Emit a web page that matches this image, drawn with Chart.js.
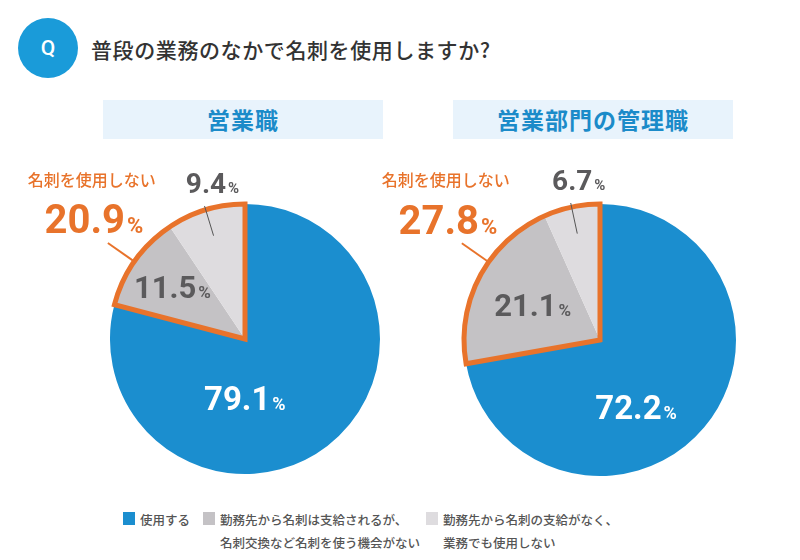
<!doctype html>
<html>
<head>
<meta charset="utf-8">
<script src="https://cdn.jsdelivr.net/npm/chart.js"></script>
<style>
  * { margin: 0; padding: 0; box-sizing: border-box; }
  body { width: 800px; height: 560px; background: #fff; position: relative; overflow: hidden;
         font-family: 'Noto Sans CJK JP', 'Noto Sans', sans-serif; }
  #qmark { position: absolute; left: 18px; top: 18px; width: 60px; height: 60px; border-radius: 50%;
           background: #1a9bd9; color: #fff; font: 500 21px Roboto, sans-serif; text-align: center; line-height: 60px; }
  #question { position: absolute; left: 91px; top: 34px; font-size: 21px; font-weight: 500; color: #333; letter-spacing: 0.6px; }
  .head { position: absolute; top: 100px; height: 39px; background: #e8f3fc; color: #1b8bc9;
          font-size: 23px; font-weight: 700; text-align: center; line-height: 38px; letter-spacing: 1px; }
  canvas { position: absolute; top: 150px; }
  .leg { position: absolute; top: 508px; font-size: 12.5px; color: #555; line-height: 23px; font-weight: 500; }
  .leg i { position: absolute; left: -17px; top: 4px; width: 12px; height: 13px; }
</style>
</head>
<body>
<div id="qmark">Q</div>
<div id="question">普段の業務のなかで名刺を使用しますか?</div>
<div class="head" id="head0" style="left:103px;width:280px;"></div>
<div class="head" id="head1" style="left:453px;width:280px;"></div>
<canvas id="pie0" width="400" height="340" style="left:0px;"></canvas>
<canvas id="pie1" width="440" height="340" style="left:360px;"></canvas>
<div class="leg" style="left:140px;"><i style="background:#1b8ecf"></i><span id="leg0"></span></div>
<div class="leg" style="left:220px;"><i style="background:#c4c2c5"></i><span id="leg1"></span></div>
<div class="leg" style="left:443px;"><i style="background:#dedcdf"></i><span id="leg2"></span></div>

<script>
// --- data ---
const categories = ['使用する', '勤務先から名刺は支給されるが、\n名刺交換など名刺を使う機会がない', '勤務先から名刺の支給がなく、\n業務でも使用しない'];
const groupTitles = ['営業職', '営業部門の管理職'];
const salesValues = [79.1, 11.5, 9.4];
const managerValues = [72.2, 21.1, 6.7];
const notUsedLabel = '名刺を使用しない';
const notUsedTotals = [20.9, 27.8];

const sliceColors = ['#1b8ecf', '#c4c2c5', '#dedcdf'];
const orange = '#e8732b';
const numFont = 'Roboto, "Liberation Sans", sans-serif';

document.getElementById('head0').textContent = groupTitles[0];
document.getElementById('head1').textContent = groupTitles[1];
categories.forEach((c, i) => {
  document.getElementById('leg' + i).innerHTML = c.replace('\n', '<br>');
});

// number with a smaller % sign, centred on x
function drawValue(ctx, value, x, y, size, color) {
  const num = value.toFixed(1);
  ctx.font = '700 ' + size + 'px ' + numFont;
  const w1 = ctx.measureText(num).width;
  const pSize = Math.round(size * 0.55);
  ctx.font = '700 ' + pSize + 'px ' + numFont;
  const w2 = ctx.measureText('%').width;
  const left = x - (w1 + w2 + 2) / 2;
  ctx.fillStyle = color;
  ctx.textBaseline = 'alphabetic';
  ctx.textAlign = 'left';
  ctx.font = '700 ' + size + 'px ' + numFont;
  ctx.fillText(num, left, y + size * 0.36);
  ctx.font = '700 ' + pSize + 'px ' + numFont;
  ctx.fillText('%', left + w1 + 2, y + size * 0.36);
}

const pieLabels = {
  id: 'pieLabels',
  afterDatasetsDraw(chart, args, opts) {
    const ctx = chart.ctx;
    const arcs = chart.getDatasetMeta(0).data;
    const vals = chart.data.datasets[0].data;
    const cx = arcs[0].x, cy = arcs[0].y, r = arcs[0].outerRadius;
    const mid = a => (a.startAngle + a.endAngle) / 2;
    ctx.save();

    // orange outline round the two "not used" slices
    ctx.beginPath();
    ctx.moveTo(cx, cy);
    ctx.arc(cx, cy, r, arcs[1].startAngle, arcs[2].endAngle);
    ctx.closePath();
    ctx.lineWidth = 5;
    ctx.lineJoin = 'miter';
    ctx.strokeStyle = orange;
    ctx.stroke();

    // main slice label
    let a = mid(arcs[0]) + opts.mainShift;
    drawValue(ctx, vals[0], cx + Math.cos(a) * r * opts.mainR, cy + Math.sin(a) * r * opts.mainR, 33, '#fff');

    // second slice label inside
    a = mid(arcs[1]);
    drawValue(ctx, vals[1], cx + Math.cos(a) * r * opts.innerR, cy + Math.sin(a) * r * opts.innerR, 31, '#5b5a5c');

    // third slice label outside, with leader
    a = mid(arcs[2]);
    const x1 = cx + Math.cos(a) * r * 0.8, y1 = cy + Math.sin(a) * r * 0.8;
    const x2 = cx + Math.cos(a) * r * 1.03, y2 = cy + Math.sin(a) * r * 1.03;
    ctx.beginPath();
    ctx.moveTo(x1, y1); ctx.lineTo(x2, y2);
    ctx.lineWidth = 1; ctx.strokeStyle = '#555';
    ctx.stroke();
    drawValue(ctx, vals[2], x2 + 8, y2 - 23, 28, '#5b5a5c');

    // "not used" total, orange callout
    a = opts.calloutAngle;
    const ox1 = cx + Math.cos(a) * r, oy1 = cy + Math.sin(a) * r;
    const ox2 = cx + Math.cos(a) * r * 1.24, oy2 = cy + Math.sin(a) * r * 1.24;
    ctx.beginPath();
    ctx.moveTo(ox1, oy1); ctx.lineTo(ox2, oy2);
    ctx.lineWidth = 2; ctx.strokeStyle = orange;
    ctx.stroke();
    drawValue(ctx, opts.total, ox2 - 14, oy2 - 24, 40, orange);
    ctx.font = '500 16px "Noto Sans CJK JP", sans-serif';
    ctx.fillStyle = orange;
    ctx.textAlign = 'center';
    ctx.textBaseline = 'middle';
    ctx.fillText(notUsedLabel, ox2 - 16, oy2 - 63);
    ctx.restore();
  }
};

function makePie(id, values, total, padding, mainShift, mainR, innerR) {
  return new Chart(document.getElementById(id), {
    type: 'pie',
    data: {
      labels: categories,
      datasets: [{ data: values, backgroundColor: sliceColors, borderWidth: 0, hoverOffset: 0 }]
    },
    options: {
      responsive: false,
      animation: false,
      events: [],
      rotation: 0,
      layout: { padding: padding },
      plugins: {
        legend: { display: false },
        tooltip: { enabled: false },
        pieLabels: { total: total, calloutAngle: 215 * Math.PI / 180, mainShift: mainShift, mainR: mainR, innerR: innerR }
      }
    },
    plugins: [pieLabels]
  });
}

makePie('pie0', salesValues, notUsedTotals[0], { left: 110, right: 20, top: 54, bottom: 16 }, 0.66, 0.44, 0.66);
makePie('pie1', managerValues, notUsedTotals[1], { left: 104, right: 64, top: 54, bottom: 14 }, 0.38, 0.56, 0.56);
</script>
</body>
</html>
